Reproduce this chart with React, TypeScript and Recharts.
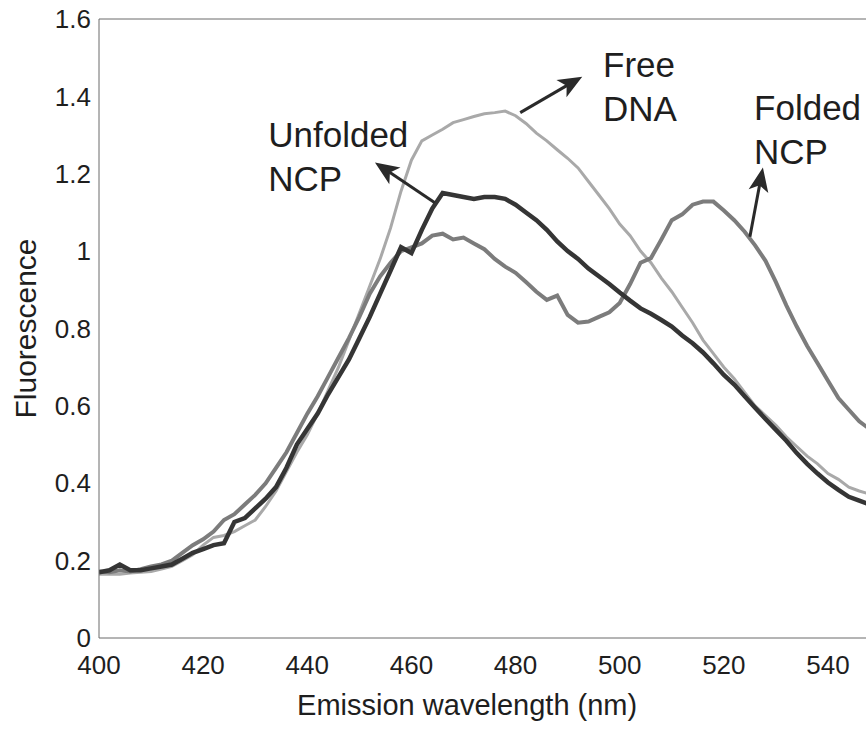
import React from 'react';
import { LineChart, Line, XAxis, YAxis, ReferenceLine, ReferenceDot, Label } from 'recharts';

// emission wavelength grid (nm)
const wavelength = [
  400, 402, 404, 406, 408, 410, 412, 414, 416, 418, 420, 422, 424, 426, 428, 430, 432, 434, 436, 438,
  440, 442, 444, 446, 448, 450, 452, 454, 456, 458, 460, 462, 464, 466, 468, 470, 472, 474, 476, 478,
  480, 482, 484, 486, 488, 490, 492, 494, 496, 498, 500, 502, 504, 506, 508, 510, 512, 514, 516, 518,
  520, 522, 524, 526, 528, 530, 532, 534, 536, 538, 540, 542, 544, 546, 548,
];

const freeDna = [
  0.165, 0.165, 0.165, 0.168, 0.17, 0.172, 0.178, 0.185, 0.2, 0.215, 0.24, 0.26, 0.265, 0.275, 0.29, 0.305, 0.34, 0.38, 0.43, 0.48,
  0.525, 0.58, 0.64, 0.7, 0.77, 0.84, 0.91, 0.98, 1.06, 1.155, 1.235, 1.285, 1.3, 1.315, 1.332, 1.34, 1.348, 1.355, 1.358, 1.362,
  1.35, 1.33, 1.305, 1.285, 1.262, 1.24, 1.215, 1.18, 1.145, 1.11, 1.07, 1.04, 1.0, 0.97, 0.93, 0.895, 0.855, 0.815, 0.77, 0.735,
  0.7, 0.67, 0.635, 0.6, 0.575, 0.55, 0.52, 0.495, 0.47, 0.45, 0.425, 0.41, 0.39, 0.38, 0.372,
];

const unfoldedNcp = [
  0.17, 0.175, 0.19, 0.175, 0.175, 0.18, 0.185, 0.19, 0.205, 0.22, 0.23, 0.24, 0.245, 0.3, 0.31, 0.335, 0.36, 0.39, 0.44, 0.5,
  0.54, 0.58, 0.63, 0.675, 0.72, 0.775, 0.83, 0.89, 0.95, 1.01, 0.995, 1.055, 1.11, 1.15, 1.145, 1.14, 1.135, 1.14, 1.14, 1.135,
  1.12, 1.1, 1.08, 1.055, 1.025, 1.0, 0.98, 0.955, 0.935, 0.915, 0.893, 0.872, 0.852, 0.838, 0.822, 0.805, 0.782, 0.762, 0.738, 0.71,
  0.68, 0.655, 0.625, 0.595, 0.566, 0.538, 0.51, 0.478, 0.45, 0.425, 0.402, 0.383, 0.365, 0.355, 0.345,
];

const foldedNcp = [
  0.172, 0.17, 0.175, 0.172, 0.178, 0.185, 0.19, 0.2, 0.22, 0.24, 0.255, 0.275, 0.305, 0.32, 0.345, 0.37, 0.4, 0.44, 0.48, 0.53,
  0.58, 0.625, 0.675, 0.725, 0.775, 0.83, 0.89, 0.935, 0.97, 1.0, 1.01, 1.02, 1.04, 1.045, 1.03, 1.035, 1.02, 1.005, 0.98, 0.96,
  0.944, 0.92, 0.895, 0.874, 0.885, 0.835, 0.815, 0.818, 0.83, 0.842, 0.866, 0.915, 0.97, 0.982, 1.03, 1.08, 1.095, 1.12, 1.128, 1.128,
  1.105, 1.08, 1.05, 1.015, 0.975, 0.92, 0.86, 0.805, 0.755, 0.71, 0.665, 0.62, 0.59, 0.56, 0.54,
];

const xTicks = [400, 420, 440, 460, 480, 500, 520, 540];
const yTicks = [0, 0.2, 0.4, 0.6, 0.8, 1, 1.2, 1.4, 1.6];

// annotation text anchors and arrows (data units)
const labels = [
  { lines: ['Unfolded', 'NCP'], x: 432.5, y: 1.27 },
  { lines: ['Free', 'DNA'], x: 496.8, y: 1.451 },
  { lines: ['Folded', 'NCP'], x: 525.8, y: 1.34 },
];
const arrows = [
  { from: [464.5, 1.125], to: [453, 1.229] },
  { from: [480.9, 1.358], to: [492.8, 1.451] },
  { from: [525.0, 1.037], to: [527.5, 1.216] },
];

const FONT = '"Liberation Sans", Arial, sans-serif';
const INK = '#1e1e1e';

const data = wavelength.map((w, i) => ({
  w,
  free: freeDna[i],
  unfolded: unfoldedNcp[i],
  folded: foldedNcp[i],
}));

const arrowShape = (p: any) => {
  const { x1, y1, x2, y2 } = p;
  const dx = x2 - x1;
  const dy = y2 - y1;
  const len = Math.sqrt(dx * dx + dy * dy) || 1;
  const ux = dx / len;
  const uy = dy / len;
  const head = 24;
  const half = 10;
  const bx = x2 - ux * head;
  const by = y2 - uy * head;
  const pts = `${x2},${y2} ${bx - uy * half},${by + ux * half} ${x2 - ux * head * 0.75},${y2 - uy * head * 0.75} ${bx + uy * half},${by - ux * half}`;
  return (
    <g>
      <line x1={x1} y1={y1} x2={x2 - ux * 10} y2={y2 - uy * 10} stroke="#2a2a2a" strokeWidth={3} />
      <polygon points={pts} fill="#2a2a2a" />
    </g>
  );
};

const textShape = (lines: string[]) => (p: any) => (
  <text x={p.cx} y={p.cy} fill={INK} fontSize={35} fontFamily={FONT}>
    {lines.map((t, i) => (
      <tspan key={t} x={p.cx} dy={i === 0 ? 0 : 44}>
        {t}
      </tspan>
    ))}
  </text>
);

const App = () => {
  return (
    <div style={{ position: 'absolute', left: 0, top: 0, width: 866, height: 729, background: '#fff' }}>
      <LineChart width={866} height={729} data={data} margin={{ top: 19, right: 0, bottom: 0, left: 0 }}>
        <XAxis
          dataKey="w"
          type="number"
          domain={[400, 547.3]}
          allowDataOverflow
          ticks={xTicks}
          tickLine={false}
          tickSize={0}
          tickMargin={18}
          height={91}
          stroke="#6a6a6a"
          tick={{ fill: INK, fontSize: 26, fontFamily: FONT }}
        >
          <Label
            content={(props: any) => {
              const vb = props.viewBox;
              return (
                <text x={vb.x + vb.width * 0.48} y={vb.y + 77} textAnchor="middle" fill={INK} fontSize={29} fontFamily={FONT}>
                  Emission wavelength (nm)
                </text>
              );
            }}
          />
        </XAxis>
        <YAxis
          type="number"
          domain={[0, 1.6]}
          ticks={yTicks}
          tickLine={false}
          tickSize={0}
          tickMargin={8}
          width={99}
          stroke="#6a6a6a"
          tick={{ fill: INK, fontSize: 26, fontFamily: FONT }}
        >
          <Label
            content={(props: any) => {
              const vb = props.viewBox;
              const cx = 25;
              const cy = vb.y + vb.height / 2;
              return (
                <text
                  x={cx}
                  y={cy}
                  transform={`rotate(-90, ${cx}, ${cy})`}
                  textAnchor="middle"
                  dominantBaseline="central"
                  fill={INK}
                  fontSize={30}
                  fontFamily={FONT}
                >
                  Fluorescence
                </text>
              );
            }}
          />
        </YAxis>
        <ReferenceLine y={1.6} stroke="#6a6a6a" strokeWidth={1} />
        <Line dataKey="free" stroke="#a9a9a9" strokeWidth={3} dot={false} isAnimationActive={false} />
        <Line dataKey="folded" stroke="#7c7c7c" strokeWidth={4} dot={false} isAnimationActive={false} />
        <Line dataKey="unfolded" stroke="#353535" strokeWidth={4.5} dot={false} isAnimationActive={false} />
        {arrows.map((a, i) => (
          <ReferenceLine
            key={`arrow-${i}`}
            segment={[
              { x: a.from[0], y: a.from[1] },
              { x: a.to[0], y: a.to[1] },
            ]}
            ifOverflow="visible"
            shape={arrowShape}
          />
        ))}
        {labels.map((l, i) => (
          <ReferenceDot key={`lbl-${i}`} x={l.x} y={l.y} r={0} ifOverflow="visible" shape={textShape(l.lines)} />
        ))}
      </LineChart>
    </div>
  );
};

export default App;
